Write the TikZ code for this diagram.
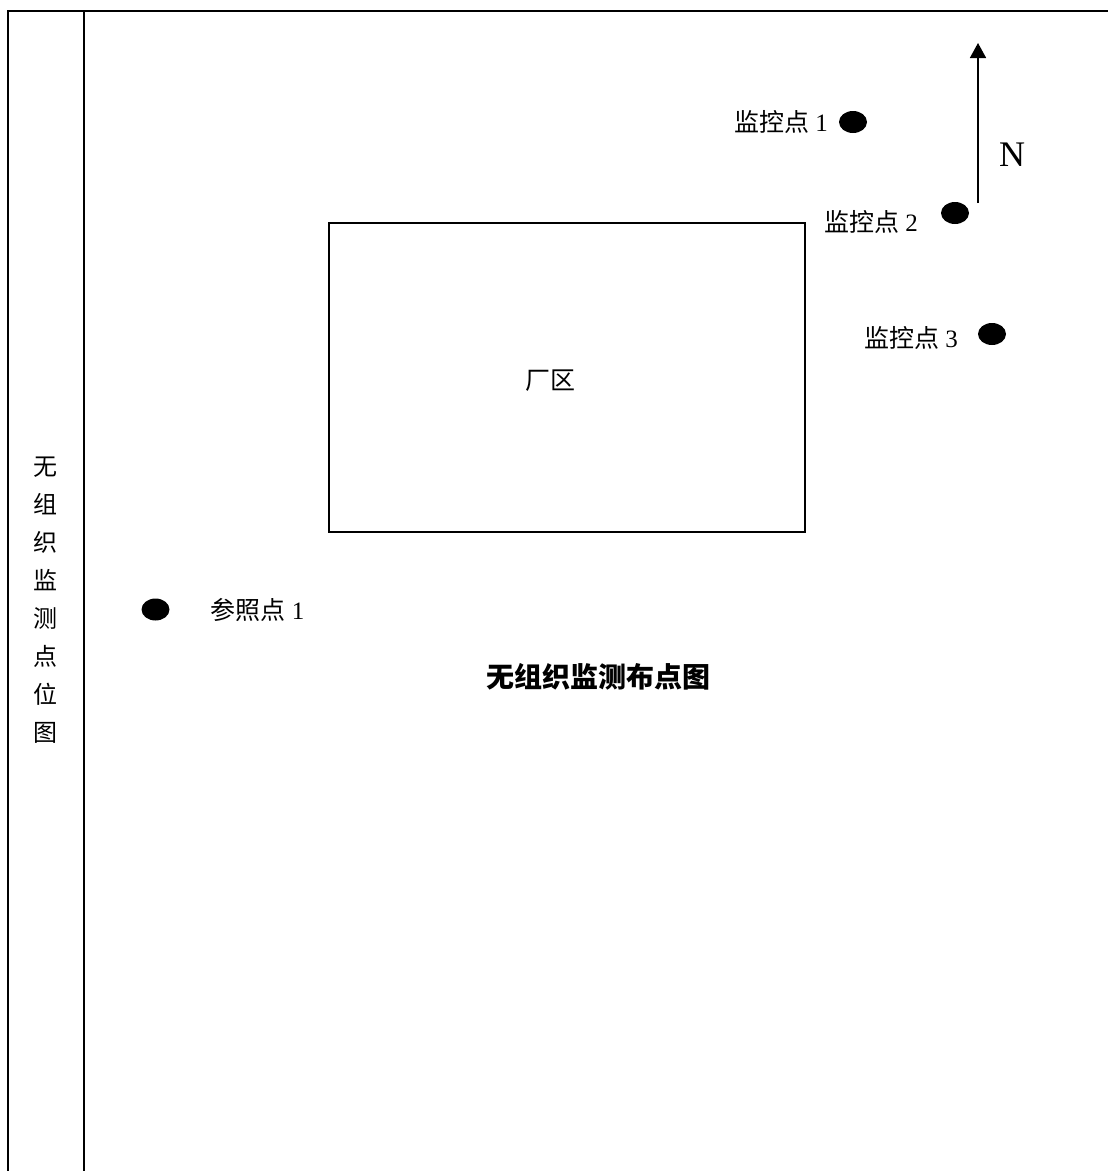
\documentclass[tikz,border=0pt]{standalone}
\usepackage{fontspec}
\setmainfont{Liberation Serif}
\newfontfamily\cjk{Noto Sans CJK SC}
\usetikzlibrary{arrows.meta,shapes.geometric}
\begin{document}
\begin{tikzpicture}[x=1pt,y=-1pt,
  frameline/.style={line width=1.6pt,black},
  dotmark/.style={ellipse,fill=black,minimum width=28pt,minimum height=22pt,inner sep=0pt},
  lbl/.style={inner sep=0pt,font=\fontsize{25}{29}\selectfont},
]
\useasboundingbox (0,0) rectangle (1108,1171);
\fill[white] (0,0) rectangle (1108,1171);
% frame
\coordinate (tl) at (8,11);
\coordinate (tr) at (1108,11);
\coordinate (bl) at (8,1171);
\coordinate (ml) at (84,11);
\coordinate (mb) at (84,1171);
\draw[frameline] (bl) -- (tl) -- (tr);
\draw[frameline] (ml) -- (mb);
% vertical caption
\node[inner sep=0pt,align=center,font=\fontsize{24}{38}\selectfont\cjk] (side) at (45,600)
  {无\\组\\织\\监\\测\\点\\位\\图};
% plant area
\node[draw,line width=1.6pt,minimum width=476pt,minimum height=309pt,inner sep=0pt] (plant) at (567,377.5) {};
\node[lbl,font=\fontsize{25}{29}\selectfont\cjk] (plantlbl) at (550,381) {厂区};
% monitoring points
\node[dotmark] (d1) at (853,122) {};
\node[lbl] (l1) at (781,122) {{\cjk 监控点} 1};
\node[dotmark] (d2) at (955,213) {};
\node[lbl] (l2) at (871,222) {{\cjk 监控点} 2};
\node[dotmark] (d3) at (992,334) {};
\node[lbl] (l3) at (911,338) {{\cjk 监控点} 3};
% reference point
\node[dotmark] (d0) at (155.5,609.5) {};
\node[lbl] (l0) at (257.5,610) {{\cjk 参照点} 1};
% north arrow
\coordinate (nb) at (978,203);
\coordinate (nt) at (978,43);
\draw[line width=1.6pt,-{Triangle[length=15pt,width=16pt]}] (nb) -- (nt);
\node[inner sep=0pt,font=\fontsize{36}{40}\selectfont] (north) at (1012,155) {N};
% title
\node[inner sep=0pt,font=\fontsize{28}{32}\selectfont\cjk\bfseries] (title) at (598,677) {无组织监测布点图};
\end{tikzpicture}
\end{document}
